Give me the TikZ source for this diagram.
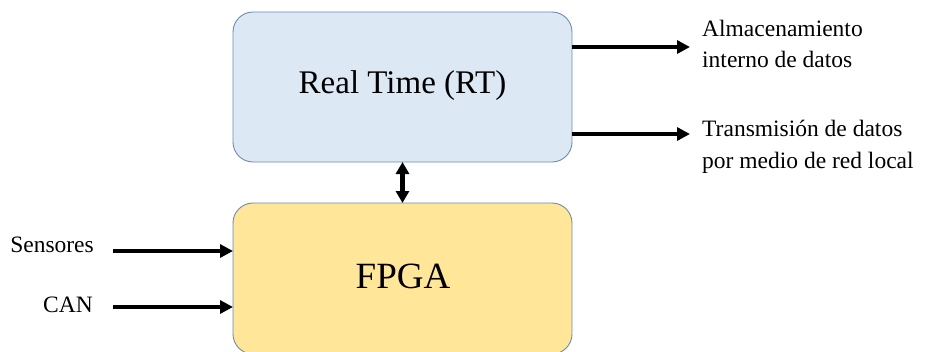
\documentclass[tikz,border=0pt]{standalone}
\usepackage{fontspec}
\setmainfont{Liberation Serif}
\usetikzlibrary{arrows.meta}
\definecolor{rtfill}{HTML}{DDE8F5}
\definecolor{fpgafill}{HTML}{FFE699}
\definecolor{boxline}{HTML}{6A8BB0}
\tikzset{
  x=1pt, y=-1pt,
  block/.style={draw=boxline, line width=0.9pt, rounded corners=20pt},
  flow/.style={line width=4.2pt, -{Triangle[length=13pt,width=13pt]}},
  bothflow/.style={line width=4.2pt, {Triangle[length=12pt,width=13pt]}-{Triangle[length=12pt,width=13pt]}},
  side/.style={font=\fontsize{23.5}{31.5}\selectfont, inner sep=0pt, align=left},
}
\begin{document}
\begin{tikzpicture}
\useasboundingbox (0,0) rectangle (926,351);
% blocks
\draw[block, fill=rtfill] (233,12) rectangle (572,162);
\node (rt) at (402.5,86) {\fontsize{33}{38}\selectfont Real Time (RT)};
\draw[block, fill=fpgafill] (233,203) rectangle (572,354);
\node (fpga) at (403,276) {\fontsize{37}{42}\selectfont FPGA};
\coordinate (rtB) at (402.5,162);
\coordinate (fpT) at (402.5,203);
% inputs
\node[side, anchor=east] (sens) at (94,245) {Sensores};
\node[side, anchor=east] (can) at (93,305) {CAN};
\coordinate (s0) at (113,251);
\coordinate (s1) at (233,251);
\coordinate (c0) at (113,307);
\coordinate (c1) at (233,307);
\draw[flow] (s0) -- (s1);
\draw[flow] (c0) -- (c1);
% link between blocks
\draw[bothflow] (rtB) -- (fpT);
% outputs
\coordinate (o1a) at (572,47);
\coordinate (o1b) at (690,47);
\coordinate (o2a) at (572,134);
\coordinate (o2b) at (690,134);
\draw[flow] (o1a) -- (o1b);
\draw[flow] (o2a) -- (o2b);
\node[side, anchor=west] (store) at (702,44) {Almacenamiento\\interno de datos};
\node[side, anchor=west] (net) at (702,147) {Transmisión de datos\\por medio de red local};
\end{tikzpicture}
\end{document}
